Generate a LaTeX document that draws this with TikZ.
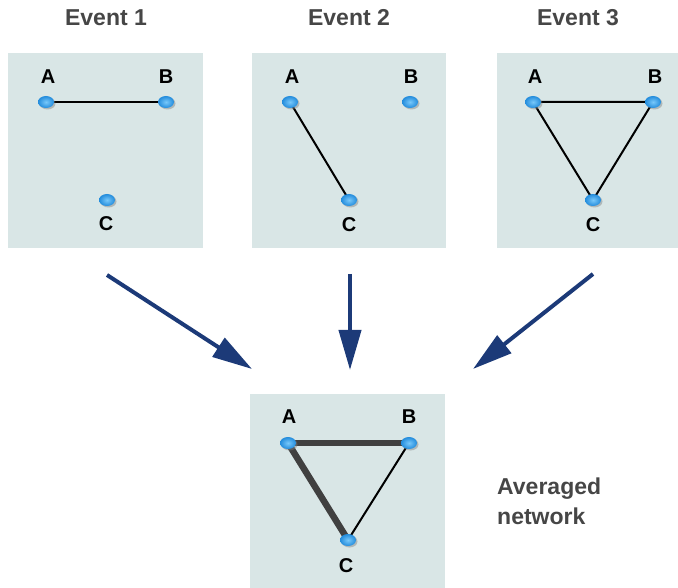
\documentclass[tikz,border=0pt]{standalone}
\usepackage{fontspec}
\setmainfont{Liberation Sans}
\usetikzlibrary{arrows.meta,shadows,shapes.geometric}
\pgfdeclarelayer{panels}
\pgfdeclarelayer{edges}
\pgfsetlayers{panels,edges,main}
\definecolor{panelbg}{RGB}{217,230,230}
\definecolor{titlegray}{RGB}{70,70,70}
\definecolor{arrowblue}{RGB}{28,58,120}
\definecolor{nodeblue}{RGB}{35,140,220}
\definecolor{nodelight}{RGB}{120,200,250}
\definecolor{thickgray}{RGB}{64,64,64}
\tikzset{
  x=1pt, y=-1pt,
  panel/.style={fill=panelbg, draw=none},
  vert/.style={ellipse, minimum width=16pt, minimum height=12pt, inner sep=0pt,
    inner color=nodelight, outer color=nodeblue, draw=none,
    drop shadow={shadow xshift=1.5pt, shadow yshift=-1.5pt, opacity=0.45}},
  lbl/.style={font=\bfseries\fontsize{20}{20}\selectfont, text=black},
  title/.style={font=\bfseries\fontsize{23}{23}\selectfont, text=titlegray},
  edge/.style={draw=black, line width=2pt},
  thickedge/.style={draw=thickgray, line width=6.5pt},
  bigarrow/.style={draw=arrowblue, line width=4pt, -{Triangle[length=40pt,width=22pt]}}
}
\begin{document}
\begin{tikzpicture}
\useasboundingbox (0,0) rectangle (678,588);
\begin{pgfonlayer}{panels}
\fill[panel] (8,53) rectangle (203,248);
\fill[panel] (252,53) rectangle (446,248);
\fill[panel] (497,53) rectangle (678,248);
\fill[panel] (250,394) rectangle (445,588);
\end{pgfonlayer}
% titles
\node[title] (t1) at (106,18) {Event 1};
\node[title] (t2) at (349,18) {Event 2};
\node[title] (t3) at (578,18) {Event 3};
% panel 1
\node[vert] (a1) at (46,102) {};
\node[vert] (b1) at (166,102) {};
\node[vert] (c1) at (107,200) {};
\node[lbl] (la1) at (48,77) {A};
\node[lbl] (lb1) at (166,77) {B};
\node[lbl] (lc1) at (106,224) {C};
% panel 2
\node[vert] (a2) at (290,102) {};
\node[vert] (b2) at (410,102) {};
\node[vert] (c2) at (349,200) {};
\node[lbl] (la2) at (292,77) {A};
\node[lbl] (lb2) at (411,77) {B};
\node[lbl] (lc2) at (349,225) {C};
% panel 3
\node[vert] (a3) at (533,102) {};
\node[vert] (b3) at (653,102) {};
\node[vert] (c3) at (593,200) {};
\node[lbl] (la3) at (535,77) {A};
\node[lbl] (lb3) at (655,77) {B};
\node[lbl] (lc3) at (593,225) {C};
% averaged
\node[vert] (a4) at (288,443) {};
\node[vert] (b4) at (409,443) {};
\node[vert] (c4) at (348,540) {};
\node[lbl] (la4) at (289,417) {A};
\node[lbl] (lb4) at (409,417) {B};
\node[lbl] (lc4) at (346,566) {C};
\node[font=\bfseries\fontsize{23}{30}\selectfont, text=titlegray, align=left, anchor=north west, inner sep=0pt] (avg) at (497,478) {Averaged\\network};
\begin{pgfonlayer}{edges}
\draw[edge] (a1.center) -- (b1.center);
\draw[edge] (a2.center) -- (c2.center);
\draw[edge] (a3.center) -- (b3.center) -- (c3.center) -- cycle;
\draw[thickedge] (a4.center) -- (b4.center);
\draw[thickedge] (a4.center) -- (c4.center);
\draw[edge] (b4.center) -- (c4.center);
\end{pgfonlayer}
% arrows
\coordinate (s1) at (107,275);
\coordinate (e1) at (252,369);
\coordinate (s2) at (350,274);
\coordinate (e2) at (350,370);
\coordinate (s3) at (593,274);
\coordinate (e3) at (473,369);
\draw[bigarrow] (s1) -- (e1);
\draw[bigarrow] (s2) -- (e2);
\draw[bigarrow] (s3) -- (e3);
\end{tikzpicture}
\end{document}
